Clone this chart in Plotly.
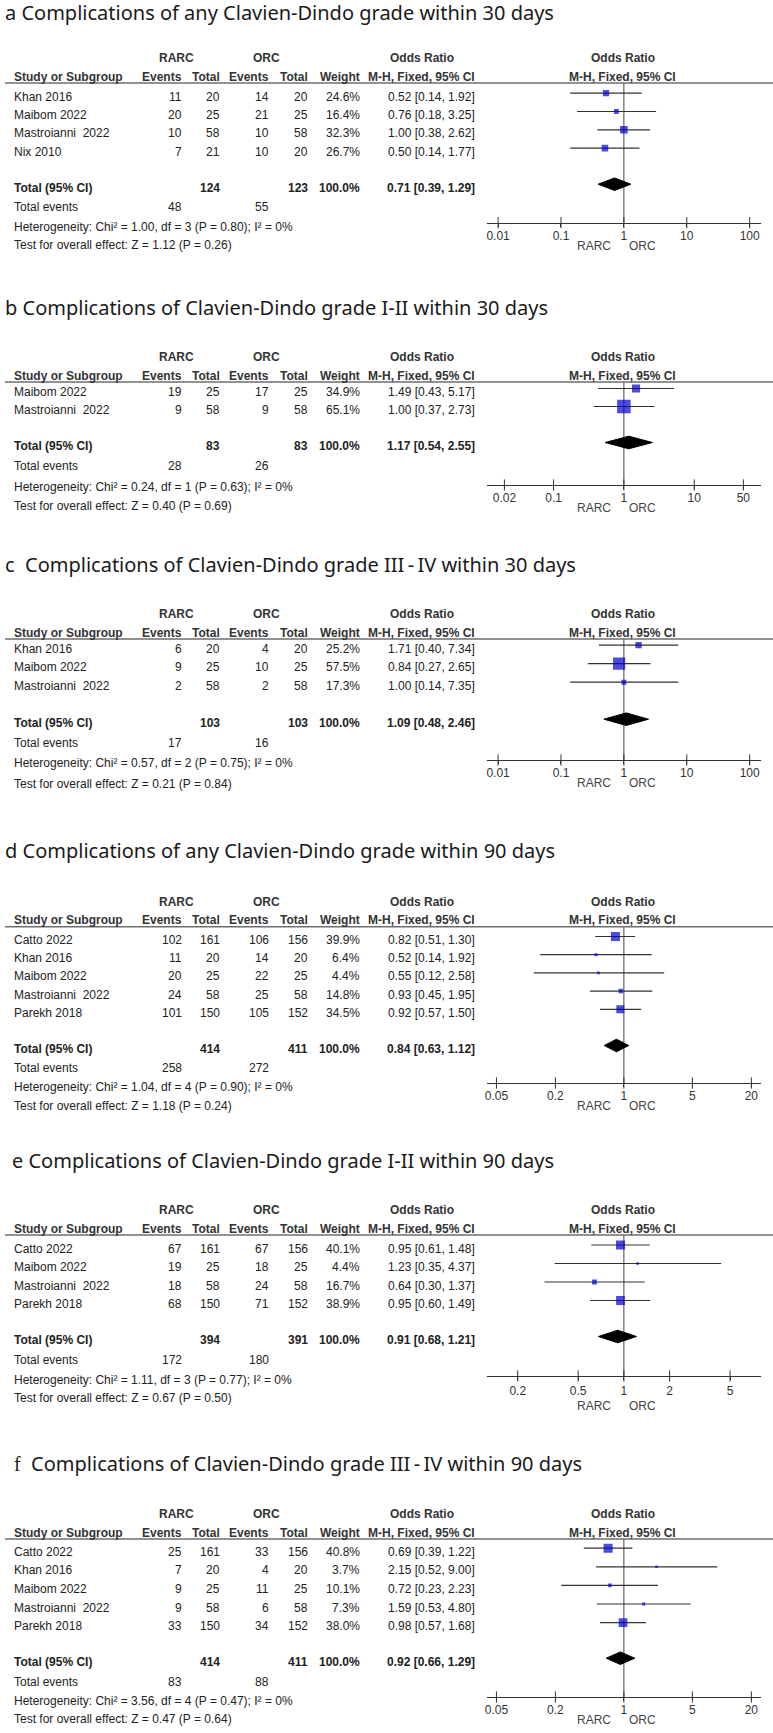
import plotly.graph_objects as go

W, H = 773, 1733

# ---------------- data ----------------
# a: any Clavien-Dindo grade, 30 days
a_study = ["Khan 2016", "Maibom 2022", "Mastroianni  2022", "Nix 2010"]
a_ev_rarc = [11, 20, 10, 7]
a_n_rarc = [20, 25, 58, 21]
a_ev_orc = [14, 21, 10, 10]
a_n_orc = [20, 25, 58, 20]
a_weight = [24.6, 16.4, 32.3, 26.7]
a_or = [0.52, 0.76, 1.00, 0.50]
a_lo = [0.14, 0.18, 0.38, 0.14]
a_hi = [1.92, 3.25, 2.62, 1.77]
a_total_n = [124, 123]
a_total_or = [0.71, 0.39, 1.29]
a_total_events = [48, 55]
a_het = "Heterogeneity: Chi² = 1.00, df = 3 (P = 0.80); I² = 0%"
a_test = "Test for overall effect: Z = 1.12 (P = 0.26)"
a_ticks = [0.01, 0.1, 1, 10, 100]

# b: grade I-II, 30 days
b_study = ["Maibom 2022", "Mastroianni  2022"]
b_ev_rarc = [19, 9]
b_n_rarc = [25, 58]
b_ev_orc = [17, 9]
b_n_orc = [25, 58]
b_weight = [34.9, 65.1]
b_or = [1.49, 1.00]
b_lo = [0.43, 0.37]
b_hi = [5.17, 2.73]
b_total_n = [83, 83]
b_total_or = [1.17, 0.54, 2.55]
b_total_events = [28, 26]
b_het = "Heterogeneity: Chi² = 0.24, df = 1 (P = 0.63); I² = 0%"
b_test = "Test for overall effect: Z = 0.40 (P = 0.69)"
b_ticks = [0.02, 0.1, 1, 10, 50]

# c: grade III-IV, 30 days
c_study = ["Khan 2016", "Maibom 2022", "Mastroianni  2022"]
c_ev_rarc = [6, 9, 2]
c_n_rarc = [20, 25, 58]
c_ev_orc = [4, 10, 2]
c_n_orc = [20, 25, 58]
c_weight = [25.2, 57.5, 17.3]
c_or = [1.71, 0.84, 1.00]
c_lo = [0.40, 0.27, 0.14]
c_hi = [7.34, 2.65, 7.35]
c_total_n = [103, 103]
c_total_or = [1.09, 0.48, 2.46]
c_total_events = [17, 16]
c_het = "Heterogeneity: Chi² = 0.57, df = 2 (P = 0.75); I² = 0%"
c_test = "Test for overall effect: Z = 0.21 (P = 0.84)"
c_ticks = [0.01, 0.1, 1, 10, 100]

# d: any grade, 90 days
d_study = ["Catto 2022", "Khan 2016", "Maibom 2022", "Mastroianni  2022", "Parekh 2018"]
d_ev_rarc = [102, 11, 20, 24, 101]
d_n_rarc = [161, 20, 25, 58, 150]
d_ev_orc = [106, 14, 22, 25, 105]
d_n_orc = [156, 20, 25, 58, 152]
d_weight = [39.9, 6.4, 4.4, 14.8, 34.5]
d_or = [0.82, 0.52, 0.55, 0.93, 0.92]
d_lo = [0.51, 0.14, 0.12, 0.45, 0.57]
d_hi = [1.30, 1.92, 2.58, 1.95, 1.50]
d_total_n = [414, 411]
d_total_or = [0.84, 0.63, 1.12]
d_total_events = [258, 272]
d_het = "Heterogeneity: Chi² = 1.04, df = 4 (P = 0.90); I² = 0%"
d_test = "Test for overall effect: Z = 1.18 (P = 0.24)"
d_ticks = [0.05, 0.2, 1, 5, 20]

# e: grade I-II, 90 days
e_study = ["Catto 2022", "Maibom 2022", "Mastroianni  2022", "Parekh 2018"]
e_ev_rarc = [67, 19, 18, 68]
e_n_rarc = [161, 25, 58, 150]
e_ev_orc = [67, 18, 24, 71]
e_n_orc = [156, 25, 58, 152]
e_weight = [40.1, 4.4, 16.7, 38.9]
e_or = [0.95, 1.23, 0.64, 0.95]
e_lo = [0.61, 0.35, 0.30, 0.60]
e_hi = [1.48, 4.37, 1.37, 1.49]
e_total_n = [394, 391]
e_total_or = [0.91, 0.68, 1.21]
e_total_events = [172, 180]
e_het = "Heterogeneity: Chi² = 1.11, df = 3 (P = 0.77); I² = 0%"
e_test = "Test for overall effect: Z = 0.67 (P = 0.50)"
e_ticks = [0.2, 0.5, 1, 2, 5]

# f: grade III-IV, 90 days
f_study = ["Catto 2022", "Khan 2016", "Maibom 2022", "Mastroianni  2022", "Parekh 2018"]
f_ev_rarc = [25, 7, 9, 9, 33]
f_n_rarc = [161, 20, 25, 58, 150]
f_ev_orc = [33, 4, 11, 6, 34]
f_n_orc = [156, 20, 25, 58, 152]
f_weight = [40.8, 3.7, 10.1, 7.3, 38.0]
f_or = [0.69, 2.15, 0.72, 1.59, 0.98]
f_lo = [0.39, 0.52, 0.23, 0.53, 0.57]
f_hi = [1.22, 9.00, 2.23, 4.80, 1.68]
f_total_n = [414, 411]
f_total_or = [0.92, 0.66, 1.29]
f_total_events = [83, 88]
f_het = "Heterogeneity: Chi² = 3.56, df = 4 (P = 0.47); I² = 0%"
f_test = "Test for overall effect: Z = 0.47 (P = 0.64)"
f_ticks = [0.05, 0.2, 1, 5, 20]

SP = "\u00a0"
TH = "\u2009"
titles = [
    "a Complications of any Clavien-Dindo grade within 30 days",
    "b Complications of Clavien-Dindo grade I-II within 30 days",
    "c" + SP * 2 + "Complications of Clavien-Dindo grade III" + TH + "-" + TH + "IV within 30 days",
    "d Complications of any Clavien-Dindo grade within 90 days",
    "e Complications of Clavien-Dindo grade I-II within 90 days",
    '<span style="font-family:Liberation Serif">f</span>' + SP * 2
    + "Complications of Clavien-Dindo grade III" + TH + "-" + TH + "IV within 90 days",
]

data = [
    (a_study, a_ev_rarc, a_n_rarc, a_ev_orc, a_n_orc, a_weight, a_or, a_lo, a_hi,
     a_total_n, a_total_or, a_total_events, a_het, a_test, a_ticks),
    (b_study, b_ev_rarc, b_n_rarc, b_ev_orc, b_n_orc, b_weight, b_or, b_lo, b_hi,
     b_total_n, b_total_or, b_total_events, b_het, b_test, b_ticks),
    (c_study, c_ev_rarc, c_n_rarc, c_ev_orc, c_n_orc, c_weight, c_or, c_lo, c_hi,
     c_total_n, c_total_or, c_total_events, c_het, c_test, c_ticks),
    (d_study, d_ev_rarc, d_n_rarc, d_ev_orc, d_n_orc, d_weight, d_or, d_lo, d_hi,
     d_total_n, d_total_or, d_total_events, d_het, d_test, d_ticks),
    (e_study, e_ev_rarc, e_n_rarc, e_ev_orc, e_n_orc, e_weight, e_or, e_lo, e_hi,
     e_total_n, e_total_or, e_total_events, e_het, e_test, e_ticks),
    (f_study, f_ev_rarc, f_n_rarc, f_ev_orc, f_n_orc, f_weight, f_or, f_lo, f_hi,
     f_total_n, f_total_or, f_total_events, f_het, f_test, f_ticks),
]

# ---------------- layout (pixel positions, page coords) ----------------
# tx, ty: title; line: header rule; row0/step: study rows; tot/te/het/test: footer rows;
# axis: y of the OR axis; R: half range of the axis in log10 units;
# lab: tick label standoff; fav: offset of the RARC/ORC caption below the axis
pos = [
    dict(tx=3, ty=12, line=83, row0=96.7, step=18.3, tot=187.7, te=207.3, het=226.7, test=245,
         axis=222.7, R=2.18, lab=-1, fav=23),
    dict(tx=3, ty=307, line=382, row0=392, step=18, tot=446, te=466, het=486.5, test=505.5,
         axis=485, R=1.95, lab=-1, fav=23),
    dict(tx=3, ty=564, line=639, row0=648.7, step=18.5, tot=722.7, te=742.5, het=763, test=784,
         axis=760, R=2.18, lab=-1, fav=23),
    dict(tx=3, ty=850, line=926.7, row0=940, step=18.2, tot=1049, te=1068, het=1087, test=1106,
         axis=1083, R=1.4, lab=-1, fav=23),
    dict(tx=10, ty=1160, line=1235, row0=1248.5, step=18.5, tot=1340, te=1360, het=1379.5, test=1398,
         axis=1376, R=0.903, lab=1, fav=30),
    dict(tx=12, ty=1463.3, line=1539, row0=1551.7, step=18.6, tot=1661.7, te=1681.7, het=1700.7,
         test=1719.3, axis=1697, R=1.4, lab=-1, fav=23),
]

PLOT_L, PLOT_R = 486, 761
TXT = "#222222"
HDR = "#333333"
BLUE = "#0000cc"
FONT = "Liberation Sans"

fig = go.Figure()
ann = []
shapes = []


def txt(x, y, s, anchor="left", bold=False, size=12, color=TXT, family=FONT):
    if bold:
        s = "<b>" + s + "</b>"
    ann.append(dict(x=x, y=y, xref="x7", yref="y", text=s, showarrow=False,
                    xanchor=anchor, yanchor="middle", borderpad=0, borderwidth=0,
                    font=dict(family=family, size=size, color=color)))


def ci_text(o, lo, hi):
    return f"{o:.2f} [{lo:.2f}, {hi:.2f}]"


for k, (d, p, title) in enumerate(zip(data, pos, titles), start=1):
    (study, ev1, n1, ev2, n2, wt, orr, lo, hi, tn, tor, tev, het, test, ticks) = d
    xn = "x" if k == 1 else f"x{k}"
    axkey = "xaxis" if k == 1 else f"xaxis{k}"

    # title
    txt(p["tx"], p["ty"], title, size=20, color="#1a1a1a", family="Noto Sans")

    # headers
    yg, yc = p["line"] - 25, p["line"] - 6.5
    txt(175, yg, "RARC", "center", True, color=HDR)
    txt(265, yg, "ORC", "center", True, color=HDR)
    txt(421, yg, "Odds Ratio", "center", True, color=HDR)
    txt(622.5, yg, "Odds Ratio", "center", True, color=HDR)
    txt(12, yc, "Study or Subgroup", "left", True, color=HDR)
    for xr, s in [(180, "Events"), (219, "Total"), (268, "Events"), (307, "Total"),
                  (359, "Weight"), (474, "M-H, Fixed, 95% CI")]:
        txt(xr, yc, s, "right", True, color=HDR)
    txt(622.5, yc, "M-H, Fixed, 95% CI", "center", True, color=HDR)
    shapes.append(dict(type="line", xref="x7", yref="y", x0=3, x1=W, y0=p["line"], y1=p["line"],
                       line=dict(color="#6e6e6e", width=1.5)))

    # study rows
    rows_y = [p["row0"] + i * p["step"] for i in range(len(study))]
    for i, y in enumerate(rows_y):
        txt(12, y, study[i])
        txt(180, y, str(ev1[i]), "right")
        txt(219, y, str(n1[i]), "right")
        txt(268, y, str(ev2[i]), "right")
        txt(307, y, str(n2[i]), "right")
        txt(359, y, f"{wt[i]:.1f}%", "right")
        txt(474, y, ci_text(orr[i], lo[i], hi[i]), "right")

    # footer rows
    txt(12, p["tot"], "Total (95% CI)", bold=True)
    txt(219, p["tot"], str(tn[0]), "right", True)
    txt(307, p["tot"], str(tn[1]), "right", True)
    txt(359, p["tot"], "100.0%", "right", True)
    txt(474, p["tot"], ci_text(*tor), "right", True)
    txt(12, p["te"], "Total events")
    txt(180, p["te"], str(tev[0]), "right")
    txt(268, p["te"], str(tev[1]), "right")
    txt(12, p["het"], het)
    txt(12, p["test"], test)

    # favours labels
    txt(611, p["axis"] + p["fav"], "RARC", "right", color="#444444")
    txt(629, p["axis"] + p["fav"], "ORC", "left", color="#444444")

    # ---- forest plot ----
    mk_y = [y - 3.5 for y in rows_y]
    dy = p["tot"] - 3.5

    fig.add_trace(go.Scatter(x=[1, 1], y=[p["line"], p["axis"]], mode="lines",
                             line=dict(color="#444444", width=1), xaxis=xn, yaxis="y",
                             hoverinfo="skip"))
    cx, cy = [], []
    for l, h, y in zip(lo, hi, mk_y):
        cx += [l, h, None]
        cy += [y, y, None]
    fig.add_trace(go.Scatter(x=cx, y=cy, mode="lines", line=dict(color="#333333", width=1.2),
                             xaxis=xn, yaxis="y", hoverinfo="skip"))
    fig.add_trace(go.Scatter(x=orr, y=mk_y, mode="markers", xaxis=xn, yaxis="y",
                             marker=dict(symbol="square", color=BLUE,
                                         size=[0.18 * w + 1.8 for w in wt],
                                         line=dict(width=0)),
                             text=study, hoverinfo="text+x"))
    fig.add_trace(go.Scatter(x=[tor[1], tor[0], tor[2], tor[0], tor[1]],
                             y=[dy, dy - 6.3, dy, dy + 6.3, dy], mode="lines", fill="toself",
                             fillcolor="black", line=dict(color="black", width=1),
                             xaxis=xn, yaxis="y", hoverinfo="skip"))
    # ticks crossing the axis line
    fig.add_trace(go.Scatter(x=ticks, y=[p["axis"]] * len(ticks), mode="markers",
                             marker=dict(symbol="line-ns", size=8,
                                         line=dict(color="#333333", width=1)),
                             xaxis=xn, yaxis="y", hoverinfo="skip", cliponaxis=False))

    fig.update_layout({axkey: dict(
        type="log", range=[-p["R"], p["R"]], domain=[PLOT_L / W, PLOT_R / W],
        anchor="free", position=1 - p["axis"] / H,
        showline=True, linecolor="#333333", linewidth=1,
        ticks="outside", ticklen=3, tickcolor="#333333",
        ticklabelstandoff=p["lab"], ticklabeloverflow="allow",
        tickvals=ticks, ticktext=[f"{t:g}" for t in ticks],
        tickfont=dict(family=FONT, size=12, color="#333333"),
        showgrid=False, zeroline=False, fixedrange=True)})

fig.update_layout(
    width=W, height=H,
    margin=dict(l=0, r=0, t=0, b=0),
    paper_bgcolor="white", plot_bgcolor="rgba(0,0,0,0)",
    showlegend=False,
    xaxis7=dict(domain=[0, 1], range=[0, W], visible=False, anchor="y", fixedrange=True),
    yaxis=dict(domain=[0, 1], range=[H, 0], visible=False, anchor="x7", fixedrange=True),
    annotations=ann, shapes=shapes,
)

# page body margin would push the figure off the window edge
fig.write_html("out.html", config={"displayModeBar": False},
               post_script="document.body.style.margin='0';document.body.style.overflow='hidden';")
